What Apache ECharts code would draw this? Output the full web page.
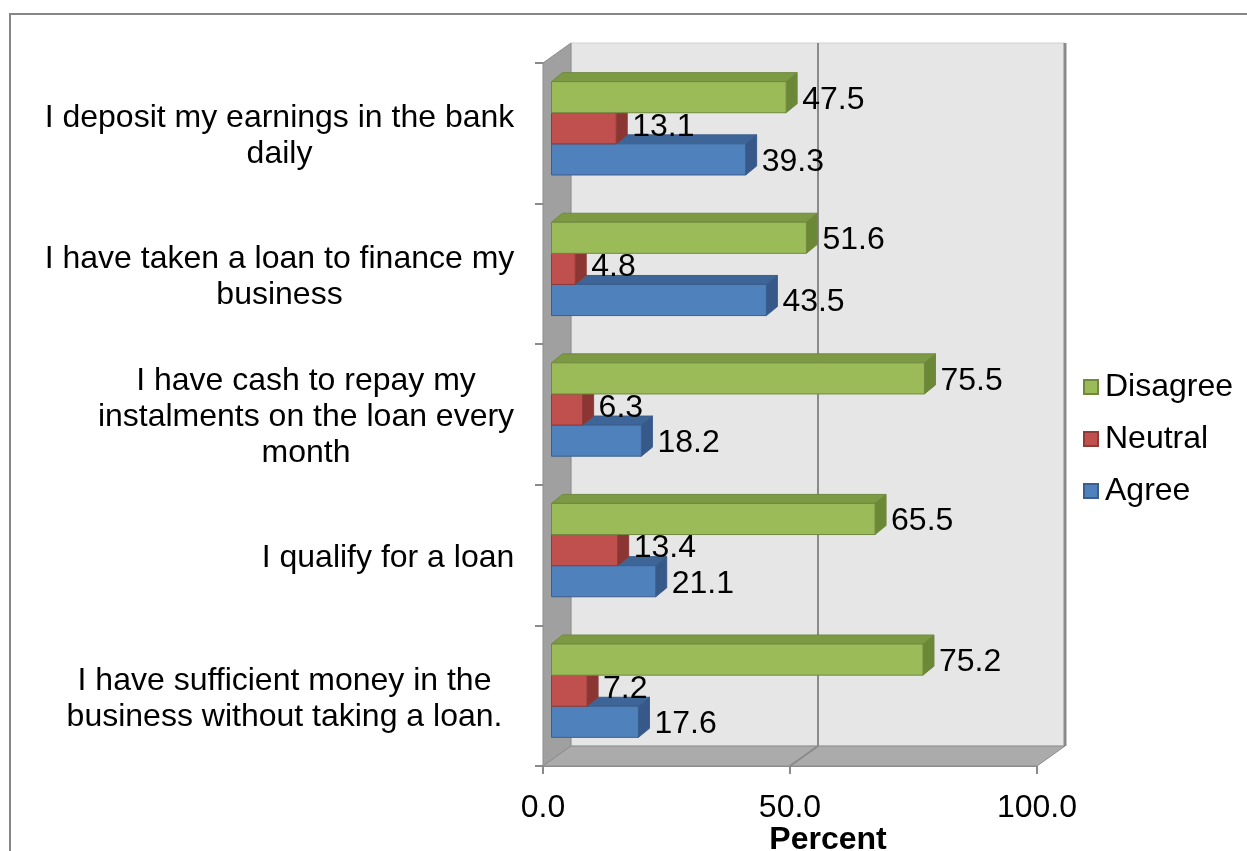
<!DOCTYPE html>
<html>
<head>
<meta charset="utf-8">
<script src="https://cdn.jsdelivr.net/npm/echarts@6/dist/echarts.min.js"></script>
<style>
  html, body { margin: 0; padding: 0; background: #ffffff; }
  #chart { width: 1247px; height: 851px; }
</style>
</head>
<body>
<div id="chart"></div>
<script>
// Survey statements (top to bottom) and the share of answers, in percent
const categories = [
  'I deposit my earnings in the bank\ndaily',
  'I have taken a loan to finance my\nbusiness',
  'I have cash to repay my\ninstalments on the loan every\nmonth',
  'I qualify for a loan',
  'I have sufficient money in the\nbusiness without taking a loan.'
];
const disagree = [47.5, 51.6, 75.5, 65.5, 75.2];
const neutral  = [13.1, 4.8, 6.3, 13.4, 7.2];
const agree    = [39.3, 43.5, 18.2, 21.1, 17.6];
const xTicks   = [0, 50, 100];

const FONT = '"Liberation Sans", Arial, Helvetica, sans-serif';
const FONT_SIZE = 32;
const LINE_H = 36;

// pseudo-3D geometry (pixels)
const WALL = [28, -20];       // depth of the back wall
const SHIFT = [8.5, -5];      // front face of the bars inside the box
const DEPTH = [11, -9];       // depth of one bar
const BAR_FRAC = 0.2213;      // bar thickness as part of a category band
const LABEL_DY = [2.5, -1.5, 2.5];  // vertical nudge of the value labels per bar slot
const LABEL_RIGHT_PAD = [0, 0, 0, 0, 12];

const palettes = {
  Disagree: { front: '#9bbb59', top: '#7c9a43', side: '#6b8837', edge: '#71893f' },
  Neutral:  { front: '#c0504d', top: '#9b3d3a', side: '#8c3633', edge: '#8f3b39' },
  Agree:    { front: '#4f81bd', top: '#3e6597', side: '#36598a', edge: '#3b5f8c' }
};

// widths of the wrapped category labels, so each block can be centred line by line
const measureCtx = document.createElement('canvas').getContext('2d');
measureCtx.font = FONT_SIZE + 'px ' + FONT;
const labelRich = {};
categories.forEach(function (c, i) {
  const w = Math.max.apply(null, c.split('\n').map(function (l) { return measureCtx.measureText(l).width; }));
  labelRich['c' + i] = {
    width: Math.ceil(w) + 1, align: 'center',
    padding: [0, LABEL_RIGHT_PAD[i], 0, 0],
    fontSize: FONT_SIZE, lineHeight: LINE_H, fontFamily: FONT, color: '#000'
  };
});

function renderWalls(params, api) {
  const cs = params.coordSys;
  const x = cs.x, y = cs.y, w = cs.width, h = cs.height;
  const dx = WALL[0], dy = WALL[1];
  const children = [
    { type: 'rect', shape: { x: x + dx, y: y + dy, width: w, height: h },
      style: { fill: '#e6e6e6', stroke: '#d0d0d0', lineWidth: 1 } },
    { type: 'polygon', shape: { points: [[x, y], [x + dx, y + dy], [x + dx, y + h + dy], [x, y + h]] },
      style: { fill: '#a0a0a0', stroke: '#8c8c8c', lineWidth: 1 } },
    { type: 'polygon', shape: { points: [[x, y + h], [x + dx, y + h + dy], [x + w + dx, y + h + dy], [x + w, y + h]] },
      style: { fill: '#ababab', stroke: '#8c8c8c', lineWidth: 1 } },
    { type: 'line', shape: { x1: x + w + dx, y1: y + dy, x2: x + w + dx, y2: y + h + dy },
      style: { stroke: '#8a8a8a', lineWidth: 3 } }
  ];
  xTicks.forEach(function (t) {
    if (t === 0 || t === xTicks[xTicks.length - 1]) return;
    const px = api.coord([t, 0])[0];
    children.push({ type: 'line', shape: { x1: px + dx, y1: y + dy, x2: px + dx, y2: y + h + dy },
      style: { stroke: '#8a8a8a', lineWidth: 2 } });
    children.push({ type: 'line', shape: { x1: px, y1: y + h, x2: px + dx, y2: y + h + dy },
      style: { stroke: '#8a8a8a', lineWidth: 2 } });
  });
  return { type: 'group', children: children };
}

function makeBarRender(slot, pal) {
  return function (params, api) {
    const ci = api.value(0);
    const v = api.value(1);
    const c0 = api.coord([0, ci]);
    const c1 = api.coord([v, ci]);
    const band = api.size([0, 1])[1];
    const h = band * BAR_FRAC;
    const x0 = c0[0] + SHIFT[0];
    const x1 = c1[0] + SHIFT[0];
    const yTop = c0[1] + SHIFT[1] + (slot - 1.5) * h;
    const yBot = yTop + h;
    const dx = DEPTH[0], dy = DEPTH[1];
    return {
      type: 'group',
      children: [
        { type: 'polygon', shape: { points: [[x0, yTop], [x1, yTop], [x1 + dx, yTop + dy], [x0 + dx, yTop + dy]] },
          style: { fill: pal.top, stroke: pal.edge, lineWidth: 1 } },
        { type: 'polygon', shape: { points: [[x1, yTop], [x1 + dx, yTop + dy], [x1 + dx, yBot + dy], [x1, yBot]] },
          style: { fill: pal.side, stroke: pal.edge, lineWidth: 1 } },
        { type: 'rect', shape: { x: x0, y: yTop, width: x1 - x0, height: h },
          style: { fill: pal.front, stroke: pal.edge, lineWidth: 1 } },
        { type: 'text',
          style: { text: v.toFixed(1), x: x1 + dx + 5, y: (yTop + yBot) / 2 + LABEL_DY[slot],
                   verticalAlign: 'middle', align: 'left',
                   fontSize: FONT_SIZE, fontFamily: FONT, fill: '#000' } }
      ]
    };
  };
}

function barSeries(name, values, slot) {
  const pal = palettes[name];
  return {
    name: name,
    type: 'custom',
    coordinateSystem: 'cartesian2d',
    itemStyle: { color: pal.front, borderColor: pal.edge, borderWidth: 1 },
    encode: { x: 1, y: 0 },
    data: values.map(function (v, i) { return [i, v]; }),
    renderItem: makeBarRender(slot, pal),
    z: 3
  };
}

const chart = echarts.init(document.getElementById('chart'), null, { renderer: 'canvas' });

chart.setOption({
  animation: false,
  backgroundColor: '#ffffff',
  grid: { left: 543, top: 63, width: 494, height: 703 },
  xAxis: {
    type: 'value', min: 0, max: 100, interval: 50,
    axisLine: { show: true, lineStyle: { color: '#8a8a8a', width: 1 } },
    axisTick: { show: true, length: 8, lineStyle: { color: '#8a8a8a', width: 2 } },
    splitLine: { show: false },
    axisLabel: { margin: 26, fontSize: FONT_SIZE, fontFamily: FONT, color: '#000',
      formatter: function (v) { return v.toFixed(1); } }
  },
  yAxis: {
    type: 'category', inverse: true, data: categories,
    axisLine: { show: true, lineStyle: { color: '#8a8a8a', width: 1 } },
    axisTick: { show: true, length: 8, lineStyle: { color: '#8a8a8a', width: 2 } },
    axisLabel: {
      margin: 28, interval: 0,
      padding: [6, 0, 0, 0],
      formatter: function (value, idx) {
        return value.split('\n').map(function (l) { return '{c' + idx + '|' + l + '}'; }).join('\n');
      },
      rich: labelRich
    }
  },
  legend: {
    data: ['Disagree', 'Neutral', 'Agree'],
    orient: 'vertical', left: 1083, top: 371, padding: 0,
    icon: 'rect', itemWidth: 14, itemHeight: 14, itemGap: 20,
    textStyle: { fontSize: FONT_SIZE, fontFamily: FONT, color: '#000', padding: [0, 0, 0, 2], lineHeight: 31 }
  },
  graphic: [
    { type: 'rect', shape: { x: 10, y: 14, width: 1400, height: 1000 }, silent: true, z: -10,
      style: { fill: 'none', stroke: '#868686', lineWidth: 2 } },
    { type: 'text', x: 828, y: 840, silent: true,
      style: { text: 'Percent', align: 'center', verticalAlign: 'middle',
               fontSize: FONT_SIZE, fontWeight: 'bold', fontFamily: FONT, fill: '#000' } }
  ],
  series: [
    { name: 'walls', type: 'custom', coordinateSystem: 'cartesian2d', data: [[0, 0]],
      encode: { x: 1, y: 0 }, renderItem: renderWalls, silent: true, z: 1 },
    barSeries('Agree', agree, 2),
    barSeries('Neutral', neutral, 1),
    barSeries('Disagree', disagree, 0)
  ]
});
</script>
</body>
</html>
